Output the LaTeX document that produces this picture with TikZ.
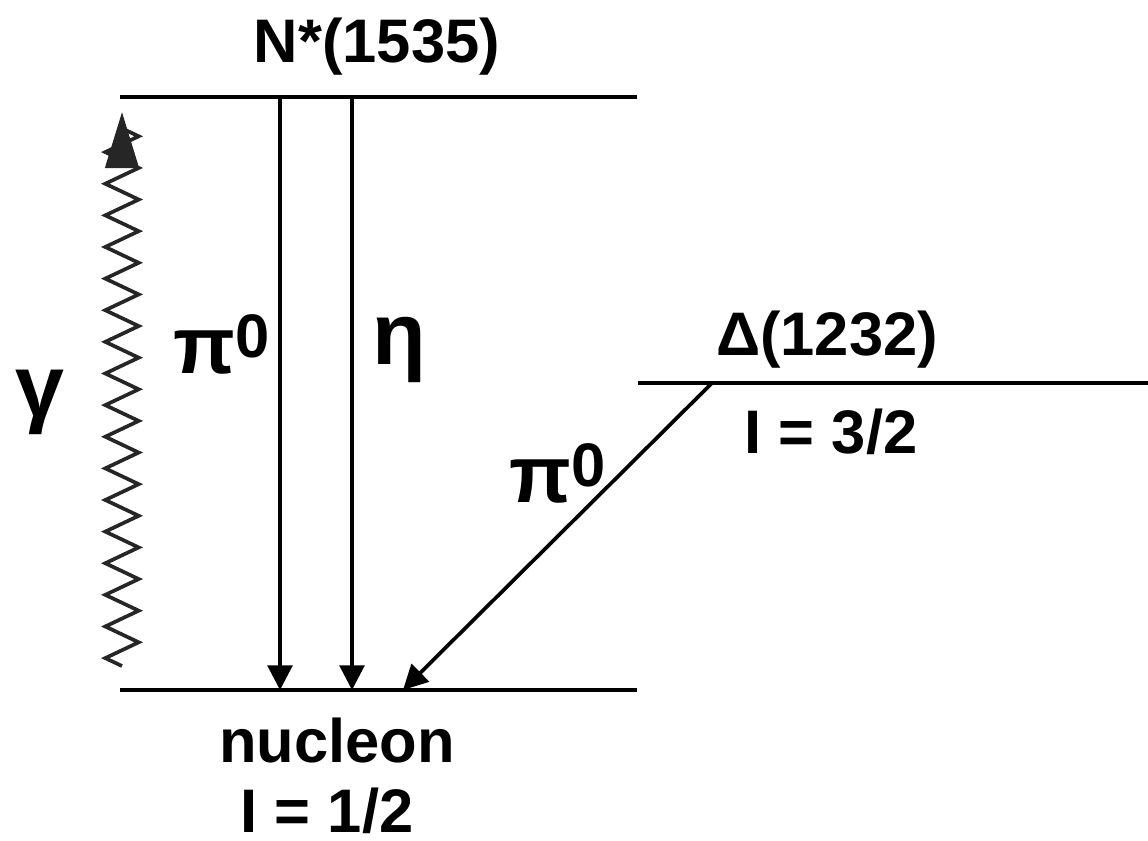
\documentclass[tikz,border=0pt]{standalone}
\usepackage{fontspec}
\setmainfont{Liberation Sans}
\usetikzlibrary{arrows.meta, positioning, decorations.pathmorphing}
\tikzset{
    % energy level, a thick horizontal bar
    level/.style={line width=2.8pt},
    % decay transitions between levels
    decay/.style={line width=2.1pt, -{Triangle[length=14pt, width=14pt]}},
    % photon absorption, zigzag with a big head
    photon/.style={line width=2.1pt, black!85,
        decorate, decoration={zigzag, segment length=18pt, amplitude=9.5pt, post length=2pt},
        -{Triangle[length=32pt, width=19pt]}},
    % all text on the picture
    txt/.style={font=\fontsize{35}{40}\selectfont\bfseries, inner sep=0pt},
    % greek letters come out larger
    greek/.style={font=\fontsize{50}{56}\selectfont\bfseries, inner sep=0pt},
}
% pion with its charge raised beside it
\newcommand{\pizero}{{\fontsize{46}{50}\selectfont π}\raisebox{0.26em}{0}}

\begin{document}
\begin{tikzpicture}[x=0.02cm, y=-0.02cm]
    \useasboundingbox (0,0) rectangle (1148,840);

    % --- levels ---
    \coordinate (nsL) at (120, 97);
    \coordinate (nsR) at (637, 97);
    \coordinate (nuL) at (120, 690);
    \coordinate (nuR) at (637, 690);
    \coordinate (deL) at (638, 383);
    \coordinate (deR) at (1148, 383);
    \draw[level] (nsL) -- (nsR);
    \draw[level] (nuL) -- (nuR);
    \draw[level] (deL) -- (deR);

    % --- level labels ---
    \node[txt, anchor=base] (nstar) at (377, 62)  {N*(1535)};
    \node[txt, anchor=base] (delta) at (827, 355) {Δ(1232)};
    \node[txt, anchor=base] (dI)    at (831, 453) {I = 3/2};
    \node[txt, anchor=base] (nucl)  at (337, 762) {nucleon};
    \node[txt, anchor=base] (nI)    at (327, 832) {I = 1/2};

    % --- decays ---
    \coordinate (pA) at (280, 97);
    \coordinate (pB) at (280, 690);
    \coordinate (eA) at (352, 97);
    \coordinate (eB) at (352, 690);
    \coordinate (dA) at (712, 383);
    \coordinate (dB) at (403, 690);
    \draw[decay] (pA) -- (pB);
    \draw[decay] (eA) -- (eB);
    \draw[decay] (dA) -- (dB);
    \node[txt, anchor=base] (pi1) at (222, 373) {\pizero};
    \node[greek] (eta) at (399, 350) {η};
    \node[txt, anchor=base] (pi2) at (558, 502) {\pizero};

    % --- photon ---
    \coordinate (gB) at (122, 666);
    \coordinate (gT) at (122, 112);
    \draw[photon] (gB) -- (gT);
    \node[greek] (gam) at (40, 402) {γ};

\end{tikzpicture}
\end{document}
